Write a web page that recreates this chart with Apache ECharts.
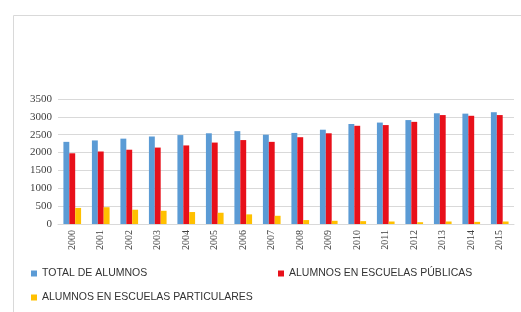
<!DOCTYPE html>
<html>
<head>
<meta charset="utf-8">
<script src="https://cdn.jsdelivr.net/npm/echarts@6/dist/echarts.min.js"></script>
<style>
  html, body { margin: 0; padding: 0; background: #fff; }
  #chart { width: 521px; height: 312px; }
</style>
</head>
<body>
<div id="chart"></div>
<script>
const years = ['2000', '2001', '2002', '2003', '2004', '2005', '2006', '2007',
  '2008', '2009', '2010', '2011', '2012', '2013', '2014', '2015'];
const totalAlumnos = [2300, 2340, 2390, 2450, 2490, 2540, 2600, 2500,
  2550, 2640, 2800, 2840, 2910, 3100, 3090, 3130];
const publicas = [1980, 2030, 2080, 2140, 2200, 2280, 2350, 2300,
  2430, 2540, 2750, 2770, 2860, 3050, 3030, 3050];
const particulares = [450, 470, 400, 370, 335, 315, 270, 230,
  110, 90, 80, 70, 50, 70, 60, 70];
const yTicks = { min: 0, max: 3500, interval: 500 };

const chart = echarts.init(document.getElementById('chart'));

const legendText = {
  color: '#333',
  fontSize: 10.5,
  fontFamily: 'Liberation Sans, Arial, sans-serif'
};

function legendAt(name, left, top) {
  return {
    data: [name],
    left: left,
    top: top,
    padding: 0,
    icon: 'rect',
    itemWidth: 6,
    itemHeight: 6,
    textStyle: legendText,
    selectedMode: false
  };
}

chart.setOption({
  animation: false,
  graphic: [{
    type: 'rect',
    shape: { x: 13.5, y: 15.5, width: 540, height: 330 },
    style: { fill: 'none', stroke: '#d9d9d9', lineWidth: 1 },
    silent: true
  }],
  grid: { left: 58, right: 7, top: 99, bottom: 88 },
  legend: [
    legendAt('TOTAL DE ALUMNOS', 31, 268),
    legendAt('ALUMNOS EN ESCUELAS PÚBLICAS', 278, 268),
    legendAt('ALUMNOS EN ESCUELAS PARTICULARES', 31, 292)
  ],
  xAxis: {
    type: 'category',
    data: years,
    axisLine: { lineStyle: { color: '#d9d9d9' } },
    axisTick: { show: false },
    axisLabel: {
      rotate: 90,
      interval: 0,
      margin: 6,
      color: '#404040',
      fontSize: 10,
      fontFamily: 'Liberation Serif, Times New Roman, serif'
    }
  },
  yAxis: {
    type: 'value',
    min: yTicks.min,
    max: yTicks.max,
    interval: yTicks.interval,
    axisLine: { show: false },
    axisTick: { show: false },
    splitLine: { lineStyle: { color: '#d9d9d9' } },
    axisLabel: {
      margin: 6,
      color: '#404040',
      fontSize: 11,
      fontFamily: 'Liberation Serif, Times New Roman, serif',
      formatter: (v) => String(v)
    }
  },
  series: [
    {
      name: 'TOTAL DE ALUMNOS',
      type: 'bar',
      data: totalAlumnos,
      barGap: '0%',
      barCategoryGap: '38%',
      itemStyle: { color: '#5b9bd5' }
    },
    {
      name: 'ALUMNOS EN ESCUELAS PÚBLICAS',
      type: 'bar',
      data: publicas,
      itemStyle: { color: '#e8101a' }
    },
    {
      name: 'ALUMNOS EN ESCUELAS PARTICULARES',
      type: 'bar',
      data: particulares,
      itemStyle: { color: '#ffc000' }
    }
  ]
});
</script>
</body>
</html>
